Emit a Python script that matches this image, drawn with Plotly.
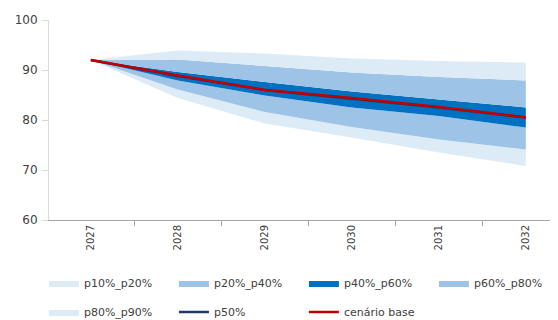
import plotly.graph_objects as go

years = ["2027", "2028", "2029", "2030", "2031", "2032"]
p10 = [92, 84.4, 79.3, 76.5, 73.5, 70.8]
p20 = [92, 86.1, 81.6, 78.6, 76.1, 74.1]
p40 = [92, 87.9, 84.9, 82.5, 80.8, 78.5]
p60 = [92, 89.6, 87.6, 85.7, 84.1, 82.5]
p80 = [92, 92.1, 90.8, 89.5, 88.6, 87.9]
p90 = [92, 93.9, 93.3, 92.3, 91.8, 91.5]
p50 = [92, 88.8, 86.0, 84.3, 82.5, 80.5]
base = [92, 88.9, 86.0, 84.4, 82.6, 80.5]

LIGHT = "#DDEBF7"
MED = "#9DC3E6"
DARK = "#0070C0"
NAVY = "#203864"
RED = "#C00000"

fig = go.Figure()
fig.add_trace(go.Scatter(x=years, y=p10, mode="lines", line=dict(width=0, color=LIGHT),
                         showlegend=False, hoverinfo="skip"))
bands = [
    (p20, LIGHT, "p10%_p20%", "legend"),
    (p40, MED, "p20%_p40%", "legend"),
    (p60, DARK, "p40%_p60%", "legend"),
    (p80, MED, "p60%_p80%", "legend"),
    (p90, LIGHT, "p80%_p90%", "legend2"),
]
for vals, col, name, leg in bands:
    fig.add_trace(go.Scatter(x=years, y=vals, mode="lines", fill="tonexty", fillcolor=col,
                             line=dict(width=0, color=col), name=name, legend=leg))
fig.add_trace(go.Scatter(x=years, y=p50, mode="lines", line=dict(width=2.5, color=NAVY),
                         name="p50%", legend="legend2"))
fig.add_trace(go.Scatter(x=years, y=base, mode="lines", line=dict(width=2.5, color=RED),
                         name="cenário base", legend="legend2"))

legfont = dict(family="DejaVu Sans", size=11, color="#404040")
common = dict(orientation="h", xanchor="left", yanchor="middle", x=-0.01,
              entrywidth=85, entrywidthmode="pixels", font=legfont,
              traceorder="normal",
              bgcolor="rgba(0,0,0,0)", tracegroupgap=0, itemclick=False)

fig.update_layout(
    width=550, height=312,
    margin=dict(l=41, r=0, t=12, b=100, autoexpand=False),
    paper_bgcolor="white", plot_bgcolor="white",
    font=dict(family="DejaVu Sans", color="#404040"),
    legend=dict(y=-0.315, **common),
    legend2=dict(y=-0.46, **common),
    xaxis=dict(type="category", range=[-0.48, 5.37], showgrid=False,
               showline=True, linecolor="#A6A6A6", linewidth=1,
               ticks="outside", tickson="boundaries", ticklen=5, tickcolor="#A6A6A6",
               tickangle=-90, tickfont=dict(size=10, color="#404040"), zeroline=False),
    yaxis=dict(range=[60, 100], dtick=10, showgrid=False,
               showline=True, linecolor="#D9D9D9", linewidth=1,
               ticks="outside", ticklen=6, tickcolor="#D9D9D9",
               tickfont=dict(size=12, color="#404040"), zeroline=False,
               ticklabelstandoff=2),
)

fig.write_html("out.html")
